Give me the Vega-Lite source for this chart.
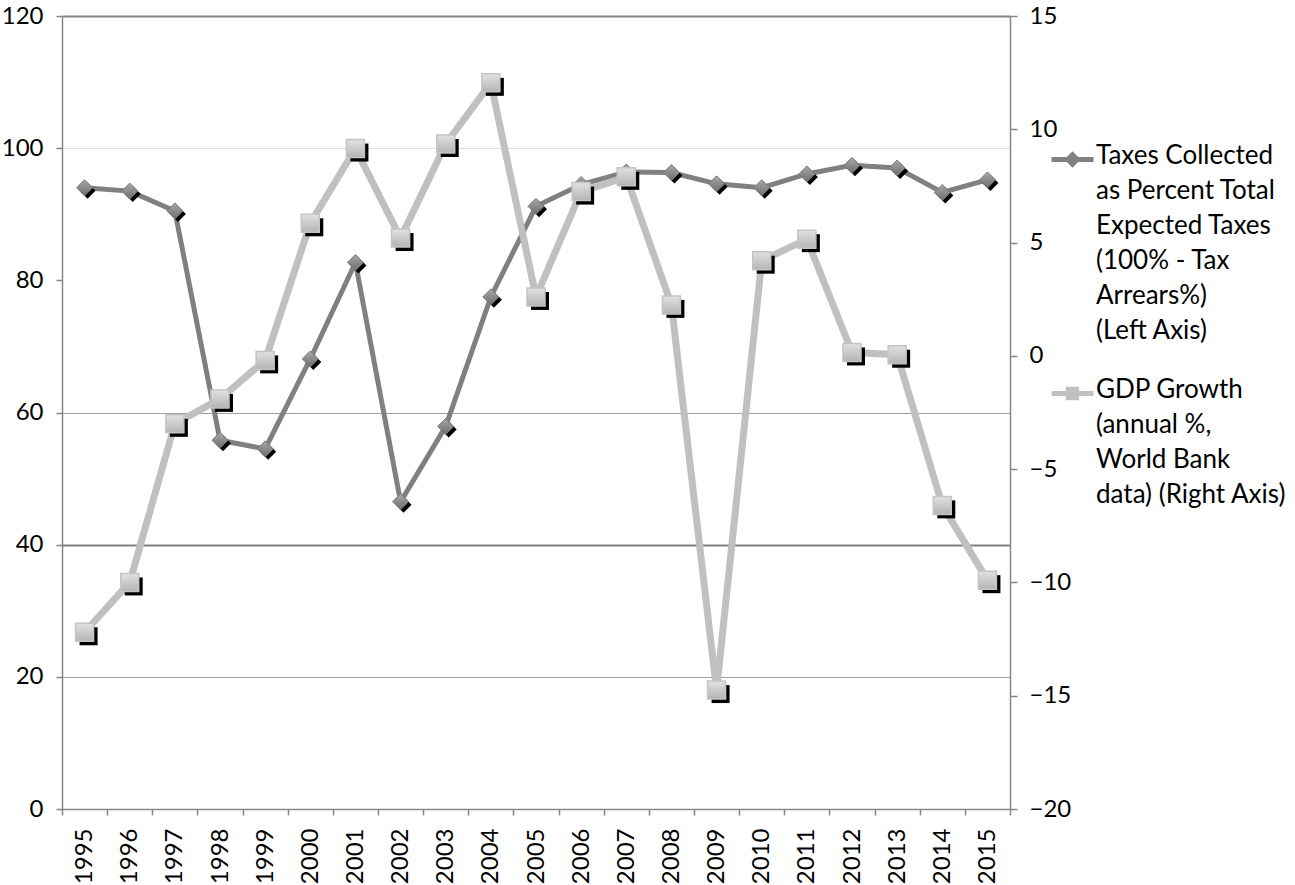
{
  "$schema": "https://vega.github.io/schema/vega-lite/v6.json",
  "width": 948,
  "height": 793,
  "autosize": {"type": "none"},
  "padding": {"left": 62, "top": 16, "right": 285, "bottom": 76},
  "background": "white",
  "config": {
    "view": {"stroke": null},
    "font": "Lato",
    "axis": {"labelFont": "Lato", "labelFontSize": 24, "labelColor": "#000000", "domainColor": "#868686", "tickColor": "#868686", "domainWidth": 1.5, "tickWidth": 1.5}
  },
  "datasets": {
    "d": [
      {"year": "1995", "series": "tax", "value": 94.0},
      {"year": "1996", "series": "tax", "value": 93.5},
      {"year": "1997", "series": "tax", "value": 90.5},
      {"year": "1998", "series": "tax", "value": 55.8},
      {"year": "1999", "series": "tax", "value": 54.5},
      {"year": "2000", "series": "tax", "value": 68.1},
      {"year": "2001", "series": "tax", "value": 82.7},
      {"year": "2002", "series": "tax", "value": 46.5},
      {"year": "2003", "series": "tax", "value": 57.9},
      {"year": "2004", "series": "tax", "value": 77.5},
      {"year": "2005", "series": "tax", "value": 91.2},
      {"year": "2006", "series": "tax", "value": 94.5},
      {"year": "2007", "series": "tax", "value": 96.4},
      {"year": "2008", "series": "tax", "value": 96.3},
      {"year": "2009", "series": "tax", "value": 94.6},
      {"year": "2010", "series": "tax", "value": 94.0},
      {"year": "2011", "series": "tax", "value": 96.1},
      {"year": "2012", "series": "tax", "value": 97.4},
      {"year": "2013", "series": "tax", "value": 97.0},
      {"year": "2014", "series": "tax", "value": 93.3},
      {"year": "2015", "series": "tax", "value": 95.2},
      {"year": "1995", "series": "gdp", "value": -12.2},
      {"year": "1996", "series": "gdp", "value": -10.0},
      {"year": "1997", "series": "gdp", "value": -3.0},
      {"year": "1998", "series": "gdp", "value": -1.9},
      {"year": "1999", "series": "gdp", "value": -0.2},
      {"year": "2000", "series": "gdp", "value": 5.85},
      {"year": "2001", "series": "gdp", "value": 9.15},
      {"year": "2002", "series": "gdp", "value": 5.2},
      {"year": "2003", "series": "gdp", "value": 9.35},
      {"year": "2004", "series": "gdp", "value": 12.05},
      {"year": "2005", "series": "gdp", "value": 2.6},
      {"year": "2006", "series": "gdp", "value": 7.25},
      {"year": "2007", "series": "gdp", "value": 7.9},
      {"year": "2008", "series": "gdp", "value": 2.25},
      {"year": "2009", "series": "gdp", "value": -14.75},
      {"year": "2010", "series": "gdp", "value": 4.2},
      {"year": "2011", "series": "gdp", "value": 5.15},
      {"year": "2012", "series": "gdp", "value": 0.15},
      {"year": "2013", "series": "gdp", "value": 0.05},
      {"year": "2014", "series": "gdp", "value": -6.6},
      {"year": "2015", "series": "gdp", "value": -9.9}
    ]
  },
  "data": {"name": "d"},
  "layer": [
    {
      "transform": [{"filter": "datum.series == 'tax'"}],
      "encoding": {
        "x": {
          "field": "year", "type": "ordinal",
          "scale": {"type": "band", "paddingInner": 0, "paddingOuter": 0},
          "axis": {"title": null, "labelAngle": -90, "labelAlign": "right", "labelBaseline": "middle", "tickBand": "extent", "tickSize": 6, "labelPadding": 13, "grid": false}
        },
        "y": {
          "field": "value", "type": "quantitative",
          "scale": {"domain": [0, 120], "nice": false, "zero": false},
          "axis": {
            "title": null, "orient": "left", "values": [0, 20, 40, 60, 80, 100, 120],
            "tickSize": 6, "labelPadding": 13, "grid": true,
            "gridColor": {"condition": [
              {"test": "datum.value == 100", "value": "#dedede"},
              {"test": "datum.value == 80", "value": "#ffffff"},
              {"test": "datum.value == 40", "value": "#808080"},
              {"test": "datum.value == 120", "value": "#868686"}
            ], "value": "#a0a0a0"},
            "gridWidth": {"condition": [
              {"test": "datum.value == 40", "value": 2},
              {"test": "datum.value == 120", "value": 2}
            ], "value": 1.2}
          }
        }
      },
      "layer": [
        {
          "mark": {"type": "line", "strokeWidth": 5},
          "encoding": {
            "color": {
              "field": "series", "type": "nominal",
              "scale": {"domain": ["tax", "gdp"], "range": ["#808080", "#c0c0c0"]},
              "legend": {
                "orient": "none", "legendX": 987, "legendY": 120, "title": null,
                "padding": 0, "offset": 0,
                "labelFont": "Lato", "labelFontSize": 26, "labelColor": "#000000", "labelLimit": 0,
                "labelBaseline": "top", "labelOffset": 0, "rowPadding": 26,
                "symbolType": "M-1,0H1M-0.22,0L0,-0.22L0.22,0L0,0.22Z",
                "symbolSize": 1764, "symbolStrokeWidth": 5,
                "labelExpr": "datum.label == 'tax' ? ['Taxes Collected', 'as Percent Total', 'Expected Taxes', '(100% - Tax', 'Arrears%)', '(Left Axis)'] : ['GDP Growth', '(annual %,', 'World Bank', 'data) (Right Axis)']",
                "encode": {
                  "labels": {"update": {"lineHeight": {"value": 35}, "dy": {"value": -17}}},
                  "symbols": {"update": {"shape": {"signal": "datum.value == 'gdp' ? 'M-1,0H1M-0.2,-0.2H0.2V0.2H-0.2Z' : 'M-1,0H1M-0.22,0L0,-0.22L0.22,0L0,0.22Z'"}}}
                }
              }
            }
          }
        },
        {
          "mark": {"type": "point", "shape": "diamond", "filled": true, "size": 256, "fill": "#000000", "stroke": null, "opacity": 1, "xOffset": 3, "yOffset": 3}
        },
        {
          "mark": {
            "type": "point", "shape": "diamond", "filled": true, "size": 256, "opacity": 1,
            "fill": {"gradient": "linear", "x1": 0, "y1": 0, "x2": 0, "y2": 1, "stops": [{"offset": 0, "color": "#a8a8a8"}, {"offset": 1, "color": "#6e6e6e"}]},
            "stroke": "#7a7a7a", "strokeWidth": 1
          }
        }
      ]
    },
    {
      "transform": [{"filter": "datum.series == 'gdp'"}],
      "encoding": {
        "x": {
          "field": "year", "type": "ordinal",
          "scale": {"type": "band", "paddingInner": 0, "paddingOuter": 0},
          "axis": {"title": null, "labelAngle": -90, "labelAlign": "right", "labelBaseline": "middle", "tickBand": "extent", "tickSize": 6, "labelPadding": 13, "grid": false}
        },
        "y": {
          "field": "value", "type": "quantitative",
          "scale": {"domain": [-20, 15], "nice": false, "zero": false},
          "axis": {"title": null, "orient": "right", "values": [-20, -15, -10, -5, 0, 5, 10, 15], "tickSize": 7, "labelPadding": 12, "grid": false}
        }
      },
      "layer": [
        {
          "mark": {"type": "line", "strokeWidth": 7},
          "encoding": {"color": {"field": "series", "type": "nominal"}}
        },
        {
          "mark": {"type": "point", "shape": "square", "filled": true, "size": 324, "fill": "#000000", "stroke": null, "opacity": 1, "xOffset": 4, "yOffset": 4}
        },
        {
          "mark": {
            "type": "point", "shape": "square", "filled": true, "size": 324, "opacity": 1,
            "fill": {"gradient": "linear", "x1": 0, "y1": 0, "x2": 0, "y2": 1, "stops": [{"offset": 0, "color": "#e2e2e2"}, {"offset": 1, "color": "#b4b4b4"}]},
            "stroke": "#c4c4c4", "strokeWidth": 1.5
          }
        }
      ]
    }
  ],
  "resolve": {"scale": {"y": "independent"}, "axis": {"y": "independent"}}
}
